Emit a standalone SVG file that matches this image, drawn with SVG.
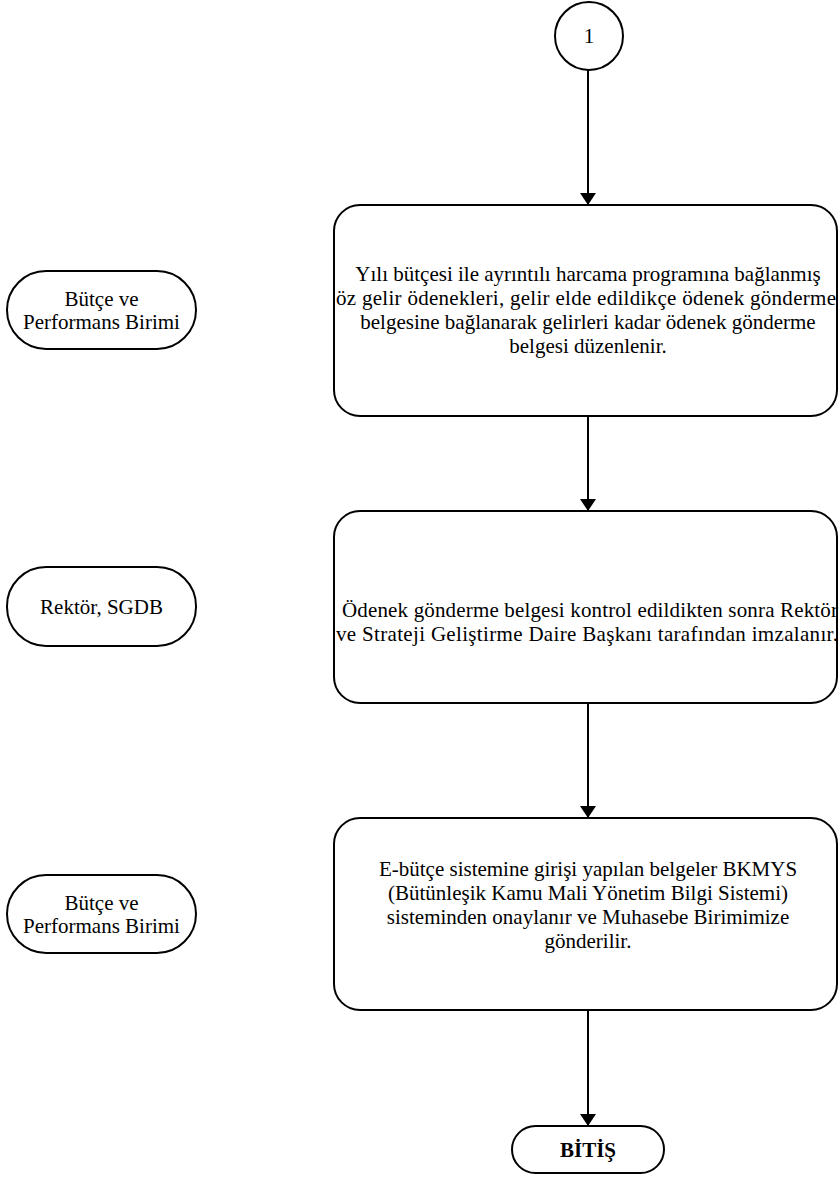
<svg xmlns="http://www.w3.org/2000/svg" width="839" height="1185" viewBox="0 0 839 1185">
<style>
.s{fill:#fff;stroke:#000;stroke-width:2}
.t{font-family:"Liberation Serif","Times New Roman",serif;font-size:21px;fill:#000;text-anchor:middle}
.b{font-weight:bold}
.c{fill:none;stroke:#000;stroke-width:2}
</style>
<defs>
<marker id="ah" markerWidth="12" markerHeight="16" refX="12" refY="8" orient="auto" markerUnits="userSpaceOnUse">
<path d="M0,0 L12,8 L0,16 Z" fill="#000"/>
</marker>
</defs>
<rect width="839" height="1185" fill="#fff"/>
<g id="connectors">
<line class="c" x1="588" y1="70" x2="588" y2="205" marker-end="url(#ah)"/>
<line class="c" x1="588" y1="416" x2="588" y2="511" marker-end="url(#ah)"/>
<line class="c" x1="588" y1="703" x2="588" y2="818" marker-end="url(#ah)"/>
<line class="c" x1="588" y1="1010" x2="588" y2="1126" marker-end="url(#ah)"/>
</g>
<g id="start">
<circle class="s" cx="589" cy="36" r="34"/>
<text class="t" x="589" y="43">1</text>
</g>
<g id="step1">
<rect class="s" x="334" y="205" width="503" height="211" rx="26"/>
<text class="t" x="588" y="281">Yılı bütçesi ile ayrıntılı harcama programına bağlanmış</text>
<text class="t" x="586" y="305" textLength="500" lengthAdjust="spacing">öz gelir ödenekleri, gelir elde edildikçe ödenek gönderme</text>
<text class="t" x="588" y="329">belgesine bağlanarak gelirleri kadar ödenek gönderme</text>
<text class="t" x="588" y="353">belgesi düzenlenir.</text>
</g>
<g id="step2">
<rect class="s" x="334" y="511" width="503" height="192" rx="26"/>
<text class="t" x="590" y="617" textLength="496" lengthAdjust="spacing">Ödenek gönderme belgesi kontrol edildikten sonra Rektör</text>
<text class="t" x="587" y="641" textLength="502" lengthAdjust="spacing">ve Strateji Geliştirme Daire Başkanı tarafından imzalanır.</text>
</g>
<g id="step3">
<rect class="s" x="334" y="818" width="503" height="192" rx="26"/>
<text class="t" x="588" y="876">E-bütçe sistemine girişi yapılan belgeler BKMYS</text>
<text class="t" x="588" y="900">(Bütünleşik Kamu Mali Yönetim Bilgi Sistemi)</text>
<text class="t" x="588" y="924">sisteminden onaylanır ve Muhasebe Birimimize</text>
<text class="t" x="588" y="948">gönderilir.</text>
</g>
<g id="end">
<rect class="s" x="512" y="1126" width="152" height="47" rx="23.5"/>
<text class="t b" x="588" y="1157">BİTİŞ</text>
</g>
<g id="role1">
<rect class="s" x="7" y="271" width="189" height="78" rx="39"/>
<text class="t" x="101.5" y="306">Bütçe ve</text>
<text class="t" x="101.5" y="329">Performans Birimi</text>
</g>
<g id="role2">
<rect class="s" x="7" y="567" width="189" height="79" rx="39"/>
<text class="t" x="101.5" y="614">Rektör, SGDB</text>
</g>
<g id="role3">
<rect class="s" x="7" y="875" width="189" height="78" rx="39"/>
<text class="t" x="101.5" y="910">Bütçe ve</text>
<text class="t" x="101.5" y="933">Performans Birimi</text>
</g>
</svg>
